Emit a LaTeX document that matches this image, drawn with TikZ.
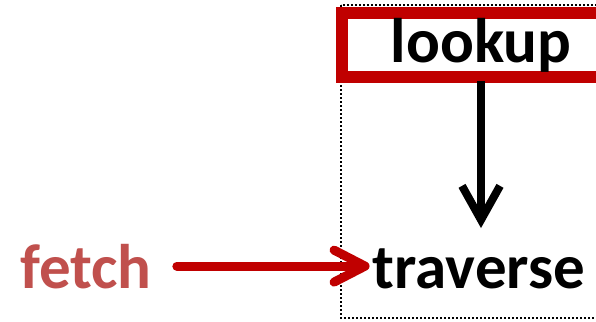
\documentclass[tikz,border=0pt]{standalone}
\usepackage{fontspec}
\setmainfont{Carlito}
\usetikzlibrary{arrows.meta}
\definecolor{darkred}{HTML}{C00000}
\definecolor{fetchred}{HTML}{C0504D}

\tikzset{
    word/.style={inner sep=0pt,font=\bfseries\fontsize{63}{63}\selectfont},
    downarrow/.style={line width=8pt,-{Straight Barb[length=34pt,width=38pt]}},
    fetcharrow/.style={darkred,line width=9pt,line cap=round,
        -{Straight Barb[length=31pt,width=32pt,round]}}
}

\begin{document}
\begin{tikzpicture}[x=1pt,y=-1pt]
            \useasboundingbox (0,0) rectangle (596,321);
            \clip (0,0) rectangle (596,321);
            % dotted frame and the red box round lookup
            \draw[line width=2pt,dash pattern=on 2pt off 2pt] (341,5) rectangle (640,318);
            \draw[darkred,line width=12pt] (342,13) rectangle (640,76.5);
            \node[word,anchor=base] (lookup) at (481,63) {lookup};
            \node[word,anchor=base] (traverse) at (479,288) {traverse};
            \node[word,anchor=base,fetchred] (fetch) at (86,288) {fetch};
            \draw[downarrow] ([yshift=-8pt]lookup.south) -- ([yshift=20pt]lookup.south |- traverse.north);
            \draw[fetcharrow] ([xshift=25pt]fetch.east) -- ([xshift=-3pt]fetch.east -| traverse.west);
        \end{tikzpicture}
\end{document}
